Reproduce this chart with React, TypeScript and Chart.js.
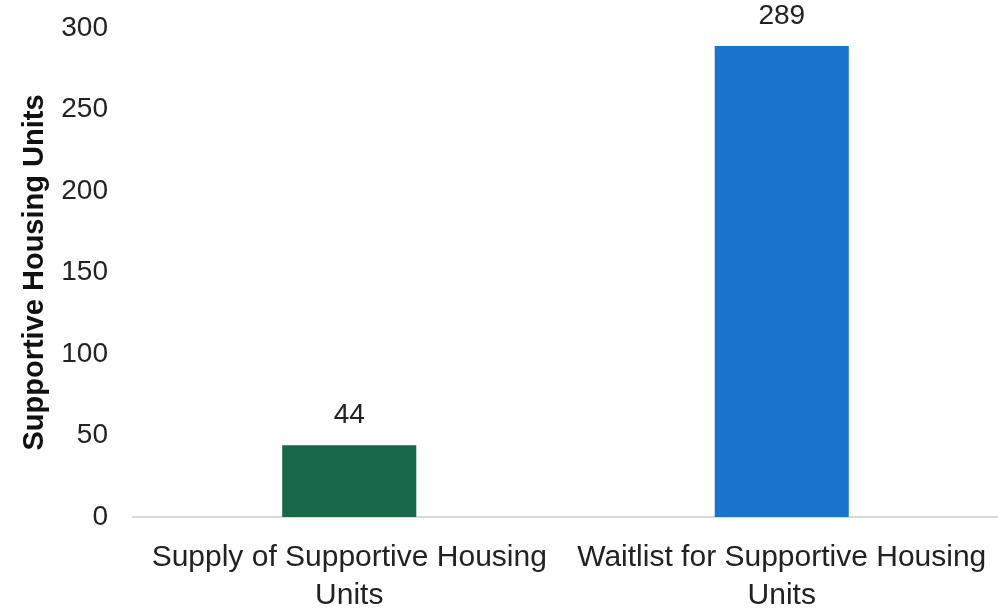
import React, { useEffect, useRef } from "react";
import { Chart, registerables } from "chart.js";

Chart.register(...registerables);

const categories: string[][] = [
  ["Supply of Supportive Housing", "Units"],
  ["Waitlist for Supportive Housing", "Units"],
];
const values: number[] = [44, 289];
const barColors: string[] = ["#17694a", "#1874cd"];
const yTitle = "Supportive Housing Units";

const dataLabelPlugin = {
  id: "dataLabels",
  afterDatasetsDraw(chart: any) {
    const ctx = chart.ctx;
    const meta = chart.getDatasetMeta(0);
    ctx.save();
    ctx.font = "28px 'Liberation Sans', Arial, sans-serif";
    ctx.fillStyle = "#222222";
    ctx.textAlign = "center";
    ctx.textBaseline = "middle";
    meta.data.forEach((bar: any, i: number) => {
      ctx.fillText(String(values[i]), bar.x, bar.y - 30);
    });
    ctx.restore();
  },
};

export default function App() {
  const ref = useRef<HTMLCanvasElement | null>(null);
  useEffect(() => {
    if (!ref.current) return;
    const chart = new Chart(ref.current, {
      type: "bar",
      data: {
        labels: categories,
        datasets: [
          {
            data: values,
            backgroundColor: barColors,
            barPercentage: 0.62,
            categoryPercentage: 0.5,
          },
        ],
      },
      options: {
        animation: false,
        responsive: false,
        maintainAspectRatio: false,
        layout: { padding: { top: 28, right: 0, bottom: 0, left: 0 } },
        plugins: { legend: { display: false }, tooltip: { enabled: false } },
        scales: {
          x: {
            afterFit: (scale: any) => {
              scale.height = 92;
              scale.paddingLeft = 0;
              scale.paddingRight = 0;
            },
            grid: { display: false },
            border: { display: true, color: "#d9d9d9", width: 2 },
            ticks: {
              color: "#222222",
              maxRotation: 0,
              autoSkip: false,
              padding: 14,
              font: { family: "'Liberation Sans', Arial", size: 30, lineHeight: 1.25 },
            },
          },
          y: {
            min: 0,
            max: 300,
            afterFit: (scale: any) => {
              scale.width = 133;
              scale.paddingTop = 0;
              scale.paddingBottom = 0;
            },
            grid: { display: false, drawTicks: false },
            border: { display: false },
            ticks: {
              stepSize: 50,
              color: "#222222",
              padding: 25,
              font: { family: "'Liberation Sans', Arial", size: 28 },
            },
            title: {
              display: true,
              text: yTitle,
              color: "#111111",
              padding: { top: 18, bottom: 0 },
              font: { family: "'Liberation Sans', Arial", size: 29, weight: "bold" },
            },
          },
        },
      },
      plugins: [dataLabelPlugin],
    });
    return () => chart.destroy();
  }, []);
  return (
    <div style={{ position: "fixed", left: 0, top: 0, width: 998, height: 609, background: "#ffffff" }}>
      <canvas ref={ref} width={998} height={609} style={{ display: "block" }} />
    </div>
  );
}
